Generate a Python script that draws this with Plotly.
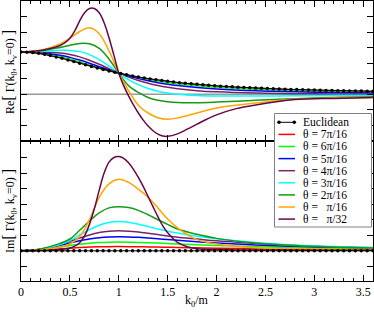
import plotly.graph_objects as go

# ---------------- data ----------------
K = [0, 0.2, 0.4, 0.5, 0.6, 0.7, 0.8, 0.9, 1.0, 1.1, 1.2, 1.3, 1.4, 1.5, 1.6,
     1.8, 2.0, 2.4, 2.8, 3.2, 3.6]
K_FINE = [0, 0.2, 0.3, 0.4, 0.45, 0.5, 0.55, 0.6, 0.65, 0.7, 0.75, 0.8, 0.85, 0.9,
          0.95, 1.0, 1.05, 1.1, 1.15, 1.2, 1.25, 1.3, 1.35, 1.4, 1.45, 1.5, 1.6,
          1.7, 1.8, 1.9, 2.0, 2.2, 2.4, 2.8, 3.2, 3.6]
K_EUCL = [0.00, 0.06, 0.12, 0.18, 0.24, 0.30, 0.36, 0.42, 0.48, 0.54, 0.60, 0.66,
          0.72, 0.78, 0.84, 0.90, 0.96, 1.02, 1.08, 1.14, 1.20, 1.26, 1.32, 1.38,
          1.44, 1.50, 1.56, 1.62, 1.68, 1.74, 1.80, 1.86, 1.92, 1.98, 2.04, 2.10,
          2.16, 2.22, 2.28, 2.34, 2.40, 2.46, 2.52, 2.58, 2.64, 2.70, 2.76, 2.82,
          2.88, 2.94, 3.00, 3.06, 3.12, 3.18, 3.24, 3.30, 3.36, 3.42, 3.48, 3.54, 3.60]

re_eucl = [1.360, 1.355, 1.341, 1.317, 1.286, 1.248, 1.204, 1.156, 1.105, 1.053,
           1.000, 0.947, 0.896, 0.846, 0.797, 0.751, 0.708, 0.667, 0.628, 0.591,
           0.557, 0.526, 0.496, 0.468, 0.442, 0.418, 0.396, 0.375, 0.356, 0.338,
           0.321, 0.305, 0.290, 0.276, 0.263, 0.251, 0.240, 0.229, 0.219, 0.210,
           0.201, 0.193, 0.185, 0.178, 0.171, 0.164, 0.158, 0.152, 0.146, 0.141,
           0.136, 0.131, 0.127, 0.122, 0.118, 0.114, 0.111, 0.107, 0.104, 0.101, 0.097]
im_eucl = [0, 0, 0, 0, 0, 0, 0, 0, 0, 0, 0, 0, 0, 0, 0, 0, 0, 0, 0, 0,
           0, 0, 0, 0, 0, 0, 0, 0, 0, 0, 0, 0, 0, 0, 0, 0, 0, 0, 0, 0,
           0, 0, 0, 0, 0, 0, 0, 0, 0, 0, 0, 0, 0, 0, 0, 0, 0, 0, 0, 0, 0]

re_7pi16 = [1.36, 1.311, 1.182, 1.098, 1.010, 0.921, 0.835, 0.754, 0.68, 0.613, 0.553,
            0.499, 0.452, 0.410, 0.373, 0.311, 0.262, 0.192, 0.146, 0.114, 0.092]
im_7pi16 = [0, 0.019, 0.063, 0.085, 0.104, 0.119, 0.129, 0.134, 0.135, 0.134, 0.131,
            0.126, 0.121, 0.115, 0.109, 0.097, 0.085, 0.067, 0.053, 0.043, 0.035]

re_6pi16 = [1.36, 1.322, 1.209, 1.130, 1.041, 0.947, 0.853, 0.763, 0.68, 0.604, 0.537,
            0.478, 0.426, 0.381, 0.342, 0.278, 0.230, 0.163, 0.121, 0.093, 0.074]
im_6pi16 = [0, 0.036, 0.123, 0.170, 0.211, 0.244, 0.266, 0.278, 0.282, 0.279, 0.271,
            0.260, 0.248, 0.234, 0.220, 0.194, 0.170, 0.131, 0.102, 0.082, 0.067]

re_5pi16 = [1.36, 1.338, 1.257, 1.188, 1.101, 1.000, 0.891, 0.783, 0.68, 0.587, 0.505,
            0.435, 0.375, 0.325, 0.283, 0.218, 0.172, 0.113, 0.080, 0.059, 0.045]
im_5pi16 = [0, 0.049, 0.175, 0.251, 0.322, 0.381, 0.423, 0.447, 0.454, 0.448, 0.433,
            0.412, 0.388, 0.363, 0.338, 0.291, 0.251, 0.188, 0.144, 0.113, 0.091]

re_4pi16 = [1.36, 1.358, 1.326, 1.280, 1.204, 1.097, 0.965, 0.821, 0.68, 0.552, 0.442,
            0.353, 0.281, 0.224, 0.180, 0.118, 0.080, 0.040, 0.022, 0.013, 0.008]
im_4pi16 = [0, 0.052, 0.201, 0.304, 0.411, 0.510, 0.586, 0.631, 0.645, 0.633, 0.604,
            0.565, 0.522, 0.479, 0.440, 0.380, 0.320, 0.240, 0.170, 0.130, 0.100]

re_3pi16 = [1.36, 1.379, 1.414, 1.412, 1.373, 1.277, 1.117, 0.906, 0.68, 0.475, 0.310,
            0.187, 0.101, 0.043, 0.005, -0.036, -0.052, -0.055, -0.048, -0.041, -0.034]
im_3pi16 = [0, 0.048, 0.205, 0.332, 0.51, 0.68, 0.82, 0.91, 0.94, 0.915, 0.855,
            0.78, 0.70, 0.63, 0.57, 0.47, 0.39, 0.27, 0.19, 0.14, 0.11]

re_2pi16 = [1.36, 1.398, 1.509, 1.579, 1.634, 1.624, 1.476, 1.138, 0.68, 0.28, 0.06,
            -0.10, -0.19, -0.24, -0.265, -0.27, -0.25, -0.19, -0.14, -0.10, -0.08]
im_2pi16 = [0, 0.06, 0.24, 0.38, 0.66, 0.96, 1.22, 1.38, 1.42, 1.39, 1.30,
            1.16, 1.00, 0.85, 0.70, 0.53, 0.40, 0.25, 0.17, 0.12, 0.09]

re_1pi16 = [1.36, 1.42, 1.62, 1.80, 2.02, 2.14, 1.95, 1.40, 0.68, 0.12, -0.35,
            -0.60, -0.75, -0.80, -0.76, -0.60, -0.44, -0.28, -0.16, -0.12, -0.10]
im_1pi16 = [0, 0.03, 0.12, 0.22, 0.46, 1.00, 1.72, 2.15, 2.30, 2.20, 1.98,
            1.72, 1.38, 1.02, 0.74, 0.36, 0.22, 0.10, 0.07, 0.05, 0.04]

re_1pi32 = [1.36, 1.41, 1.47, 1.57, 1.66, 1.80, 2.04, 2.36, 2.62, 2.76, 2.76, 2.62,
            2.30, 1.82, 1.26, 0.68, 0.28, -0.05, -0.34, -0.60, -0.83, -1.02, -1.17,
            -1.28, -1.34, -1.35, -1.27, -1.12, -0.96, -0.80, -0.66, -0.46, -0.34,
            -0.17, -0.13, -0.10]
im_1pi32 = [0, 0.01, 0.02, 0.04, 0.06, 0.09, 0.15, 0.26, 0.48, 0.85, 1.35, 1.95,
            2.50, 2.85, 3.00, 3.03, 2.97, 2.83, 2.62, 2.36, 2.07, 1.74, 1.42, 1.10,
            0.80, 0.58, 0.27, 0.13, 0.07, 0.05, 0.04, 0.03, 0.03, 0.02, 0.02, 0.02]

LABELS = ["Euclidean", "θ = 7π/16", "θ = 6π/16", "θ = 5π/16", "θ = 4π/16",
          "θ = 3π/16", "θ = 2π/16", "θ =\u00a0\u00a0\u00a0π/16", "θ =\u00a0\u00a0\u00a0π/32"]

# ---------------- styles ----------------
COLORS = ["#000000", "#ff0000", "#00ff00", "#0000ff", "#7a2468",
          "#00ffff", "#159a15", "#ffa500", "#670748"]
FONT = "Liberation Serif, Times New Roman, serif"

theta_series = [
    (K, re_7pi16, im_7pi16),
    (K, re_6pi16, im_6pi16),
    (K, re_5pi16, im_5pi16),
    (K, re_4pi16, im_4pi16),
    (K, re_3pi16, im_3pi16),
    (K, re_2pi16, im_2pi16),
    (K, re_1pi16, im_1pi16),
    (K_FINE, re_1pi32, im_1pi32),
]

fig = go.Figure()
for i, (kx, re, im) in enumerate(theta_series):
    col = COLORS[i + 1]
    name = LABELS[i + 1]
    fig.add_trace(go.Scatter(x=kx, y=re, mode="lines", name=name, showlegend=False,
                             line=dict(color=col, width=1.5, shape="spline", smoothing=1.0),
                             xaxis="x", yaxis="y"))
    fig.add_trace(go.Scatter(x=kx, y=im, mode="lines", name=name, showlegend=False,
                             line=dict(color=col, width=1.5, shape="spline", smoothing=1.0),
                             xaxis="x2", yaxis="y2"))

for yy, xa, ya in [(re_eucl, "x", "y"), (im_eucl, "x2", "y2")]:
    fig.add_trace(go.Scatter(x=K_EUCL, y=yy, mode="lines+markers", name=LABELS[0],
                             showlegend=False,
                             line=dict(color="black", width=1),
                             marker=dict(color="black", size=3.5),
                             xaxis=xa, yaxis=ya))

# ---------------- axes ----------------
common_x = dict(range=[0, 3.6], showline=True, linecolor="black", linewidth=1,
                mirror="ticks", ticks="inside", ticklen=6, tickcolor="black",
                tickwidth=1, tick0=0, dtick=0.5, showgrid=False, zeroline=False,
                minor=dict(dtick=0.1, ticks="inside", ticklen=3, tickcolor="black",
                           showgrid=False),
                tickfont=dict(family=FONT, size=12, color="black"))
common_y = dict(showline=True, linecolor="black", linewidth=1, mirror="ticks",
                ticks="inside", ticklen=6, tickcolor="black", tickwidth=1,
                tick0=0, dtick=0.5, showgrid=False, zeroline=False,
                showticklabels=False)

L, T, PW, PH = 21, 1, 352, 280

fig.update_layout(
    width=374, height=312,
    margin=dict(l=L, r=374 - L - PW, t=T, b=312 - T - PH, pad=0),
    paper_bgcolor="white", plot_bgcolor="white",
    showlegend=False,
    xaxis=dict(common_x, anchor="y", showticklabels=False, matches="x2"),
    xaxis2=dict(common_x, anchor="y2"),
    yaxis=dict(common_y, domain=[0.5, 1.0], range=[-1.5, 3.0], anchor="x"),
    yaxis2=dict(common_y, domain=[0.0, 0.5], range=[-0.97, 3.53], anchor="x2"),
    font=dict(family=FONT, size=12, color="black"),
)

# zero line in the upper panel
fig.add_shape(type="line", xref="x domain", yref="y", x0=0, x1=1, y0=0, y1=0,
              line=dict(color="#9a9a9a", width=1.5), layer="below")


def px_x(px):
    return (px - L) / PW


def px_y(py):
    return (T + PH - py) / PH


# axis titles
big = '<span style="font-size:16px">%s</span>'
fig.add_annotation(text="Re" + big % "[" + " Γ(k<sub>0</sub>, k<sub>v</sub>=0) " + big % "]",
                   xref="paper", yref="paper", x=px_x(9), y=px_y(72), textangle=-90,
                   showarrow=False, xanchor="center", yanchor="middle",
                   font=dict(family=FONT, size=12, color="black"))
fig.add_annotation(text="Im" + big % "[" + " Γ(k<sub>0</sub>, k<sub>v</sub>=0) " + big % "]",
                   xref="paper", yref="paper", x=px_x(9), y=px_y(211), textangle=-90,
                   showarrow=False, xanchor="center", yanchor="middle",
                   font=dict(family=FONT, size=12, color="black"))
fig.add_annotation(text="k<sub>0</sub>/m", xref="paper", yref="paper",
                   x=px_x(197), y=px_y(301), showarrow=False,
                   xanchor="center", yanchor="middle",
                   font=dict(family=FONT, size=12, color="black"))

# ---------------- legend box (drawn by hand, compact like the original) ----------------
fig.add_shape(type="rect", xref="paper", yref="paper",
              x0=px_x(274.5), x1=px_x(371.5), y0=px_y(227), y1=px_y(113.5),
              line=dict(color="#808080", width=1), fillcolor="white", layer="above")
row0, drow = 122.3, 12.1
for i, lab in enumerate(LABELS):
    yc = px_y(row0 + drow * i)
    fig.add_shape(type="line", xref="paper", yref="paper",
                  x0=px_x(278.5), x1=px_x(295), y0=yc, y1=yc,
                  line=dict(color=COLORS[i], width=1.5 if i else 1), layer="above")
    if i == 0:
        for cx in (279, 294.3):
            fig.add_shape(type="circle", xref="paper", yref="paper",
                          x0=px_x(cx - 1.8), x1=px_x(cx + 1.8),
                          y0=yc - 1.8 / PH, y1=yc + 1.8 / PH,
                          line=dict(color="black", width=0), fillcolor="black",
                          layer="above")
    fig.add_annotation(text=lab, xref="paper", yref="paper", x=px_x(301.5), y=yc,
                       xanchor="left", yanchor="middle", showarrow=False, borderpad=0,
                       font=dict(family=FONT, size=11.5, color="black"))

fig.write_html("out.html", config={"displayModeBar": False},
               post_script="document.body.style.margin='0px';")
